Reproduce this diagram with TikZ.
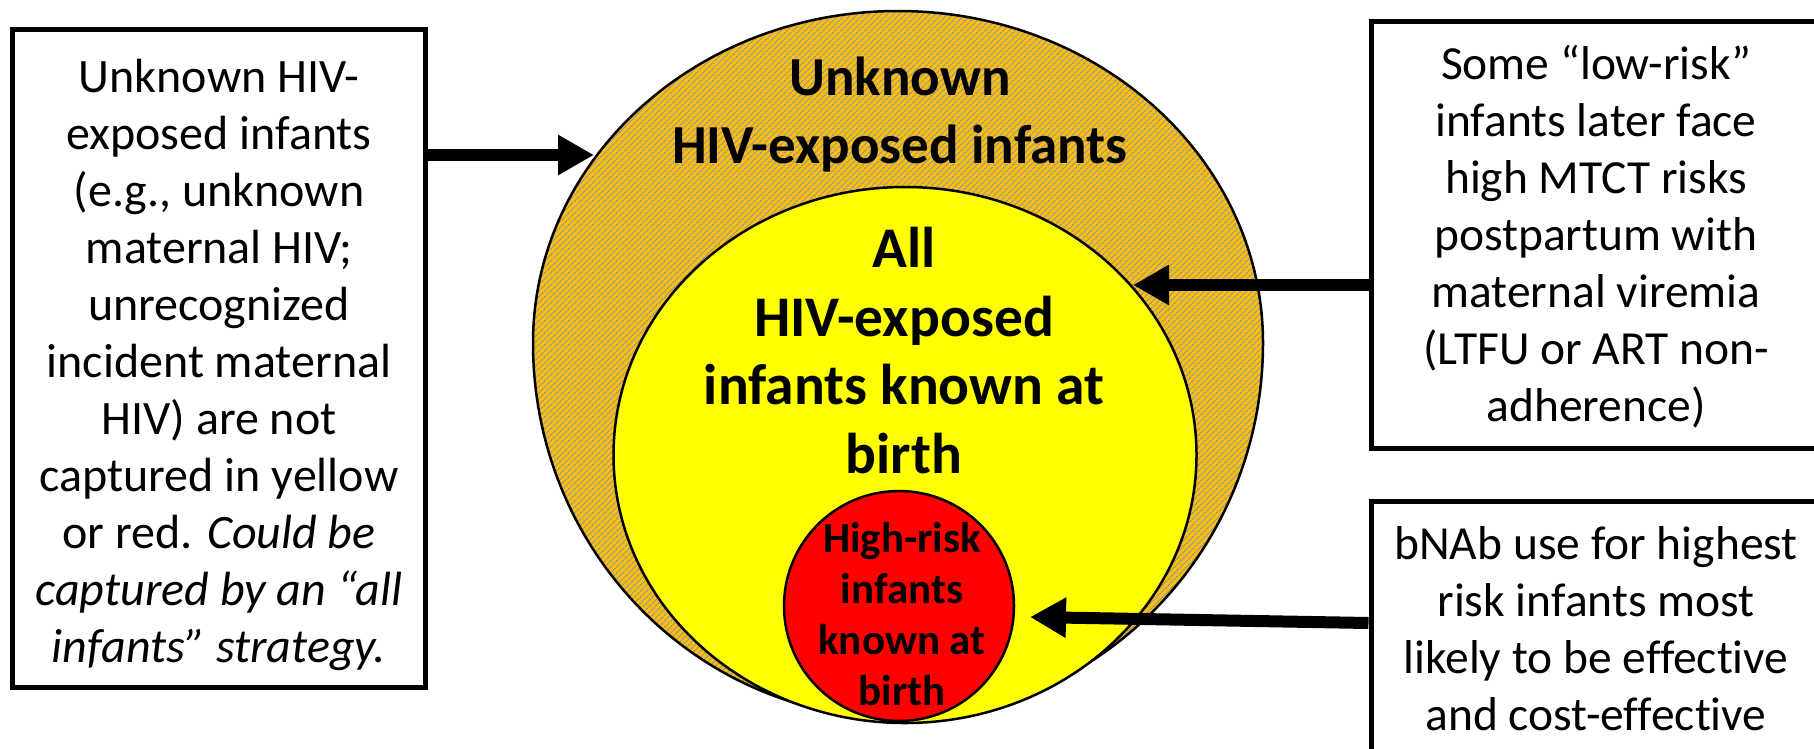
\documentclass[tikz,border=0pt]{standalone}
\usepackage{fontspec}
\setmainfont{Carlito}[Ligatures=NoCommon]
\usetikzlibrary{arrows.meta,patterns.meta}
\definecolor{ringorange}{RGB}{255,192,0}
\definecolor{ringhatch}{RGB}{150,150,160}
\definecolor{knownyellow}{RGB}{255,255,0}
\definecolor{highred}{RGB}{255,0,0}

\begin{document}
\begin{tikzpicture}[x=1pt,y=-1pt,
		notebox/.style={draw,line width=5pt,inner sep=0pt},
		notetext/.style={inner sep=0pt,align=center},
		ringtext/.style={inner sep=0pt,align=center,font=\fontsize{55}{68}\selectfont\bfseries},
		bigarrow/.style={line width=12pt,-{Triangle[length=36pt,width=38pt]}}]
	\useasboundingbox (0,0) rectangle (1814,748);
	% rings
	\draw[line width=2.5pt,preaction={fill=ringorange},pattern={Lines[angle=45,distance=4pt,line width=1.3pt]},pattern color=ringhatch]
		(533,343) arc[start angle=180,end angle=360,x radius=365,y radius=332]
		arc[start angle=0,end angle=180,x radius=365,y radius=375] -- cycle;
	\draw[line width=2.5pt,fill=knownyellow] (905,455) ellipse[x radius=291.5,y radius=268];
	\draw[line width=2.5pt,fill=highred] (899,606) circle[radius=115];
	\node[ringtext] (unknownlabel) at (900,116) {\strut Unknown\\HIV-exposed infants\strut};
	\node[ringtext,font=\fontsize{57.5}{68.5}\selectfont\bfseries] (knownlabel) at (904,357) {\strut All\\HIV-exposed\\infants known at\\birth\strut};
	\node[notetext,font=\fontsize{43}{51}\selectfont\bfseries] (highlabel) at (902,619) {\strut High-risk\\infants\\known at\\birth\strut};
	% notes
	\node[notebox,minimum width=413pt,minimum height=658pt] (leftnote) at (219,358.5) {};
	\node[notetext,font=\fontsize{48}{57}\selectfont] (lefttext) at ([yshift=-8pt]leftnote.center)
		{\strut Unknown HIV-\\exposed infants\\(e.g., unknown\\maternal HIV;\\unrecognized\\incident maternal\\HIV) are not\\captured in yellow\\or red. \textit{Could be}\\\textit{captured by an “all}\\\textit{infants” strategy.}\strut};
	\node[notebox,minimum width=450pt,minimum height=427.5pt] (lownote) at (1596,235) {};
	\node[notetext,font=\fontsize{47.5}{57}\selectfont] (lowtext) at ([yshift=-4pt]lownote.center)
		{\strut Some “low-risk”\\infants later face\\high MTCT risks\\postpartum with\\maternal viremia\\(LTFU or ART non-\\adherence)\strut};
	\node[notebox,minimum width=450pt,minimum height=252pt] (bnabnote) at (1596,627) {};
	\node[notetext,font=\fontsize{47.5}{57}\selectfont] (bnabtext) at ([yshift=-7pt]bnabnote.center)
		{\strut bNAb use for highest\\risk infants most\\likely to be effective\\and cost-effective\strut};
	% arrows
	\coordinate (tipU) at (594,155);
	\coordinate (tipK) at (1133,285);
	\coordinate (tipH) at (1030,617);
	\draw[bigarrow] (leftnote.east |- tipU) -- (tipU);
	\draw[bigarrow] (lownote.west |- tipK) -- (tipK);
	\draw[bigarrow] ([yshift=4pt]bnabnote.west) -- (tipH);
\end{tikzpicture}
\end{document}
